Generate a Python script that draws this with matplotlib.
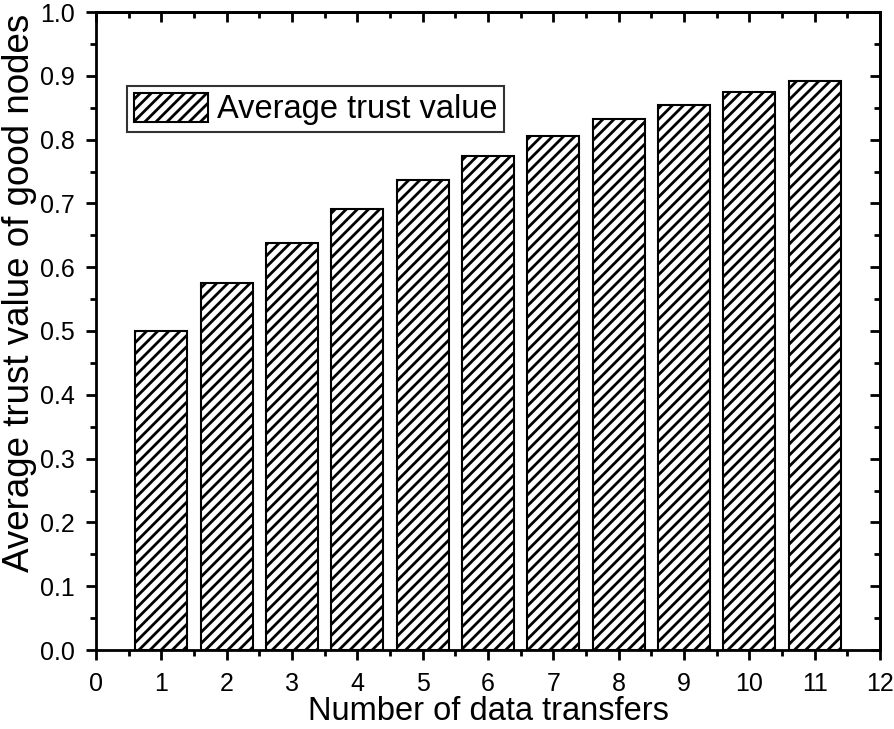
import matplotlib
matplotlib.use("Agg")
import matplotlib.pyplot as plt
from matplotlib.ticker import MultipleLocator

plt.rcParams['font.family'] = ['Liberation Sans', 'DejaVu Sans']
plt.rcParams['hatch.linewidth'] = 2.0

transfers = [1, 2, 3, 4, 5, 6, 7, 8, 9, 10, 11]
trust = [0.500, 0.576, 0.638, 0.691, 0.736, 0.774, 0.806, 0.833, 0.855, 0.875, 0.892]

fig = plt.figure(figsize=(8.94, 7.29), dpi=100)
ax = fig.add_axes([96/894, 1-650/729, 784/894, 638/729])

ax.bar(transfers, trust, width=0.8, color='white', edgecolor='black',
       linewidth=1.5, hatch='///', label='Average trust value')

ax.set_xlim(0, 12)
ax.set_ylim(0, 1.0)
ax.xaxis.set_major_locator(MultipleLocator(1))
ax.xaxis.set_minor_locator(MultipleLocator(0.5))
ax.set_yticks([i / 10 for i in range(11)])
ax.set_yticklabels([f"{i / 10:.1f}" for i in range(11)])
ax.yaxis.set_minor_locator(MultipleLocator(0.05))

for s in ax.spines.values():
    s.set_linewidth(2)

ax.tick_params(axis='both', which='major', labelsize=18, width=2, length=7.5, direction='out', pad=8)
ax.tick_params(axis='both', which='minor', width=2, length=4, direction='out')
ax.tick_params(top=False, right=False, which='both')

# mirrored ticks inward on top/right
ax2 = ax.secondary_xaxis('top')
ax2.xaxis.set_major_locator(MultipleLocator(1))
ax2.xaxis.set_minor_locator(MultipleLocator(0.5))
ax2.tick_params(which='major', direction='in', length=7.5, width=2, labeltop=False)
ax2.tick_params(which='minor', direction='in', length=4, width=2)
ax2.spines['top'].set_linewidth(2)
ax3 = ax.secondary_yaxis('right')
ax3.yaxis.set_major_locator(MultipleLocator(0.1))
ax3.yaxis.set_minor_locator(MultipleLocator(0.05))
ax3.tick_params(which='major', direction='in', length=7.5, width=2, labelright=False)
ax3.tick_params(which='minor', direction='in', length=4, width=2)
ax3.spines['right'].set_linewidth(2)

ax.set_xlabel('Number of data transfers', fontsize=23.5, labelpad=0)
ax.set_ylabel('Average trust value of good nodes', fontsize=26.5, labelpad=2)
ax.yaxis.label.set_y(0.56)

leg = ax.legend(loc='upper left', bbox_to_anchor=(31/784, 1-(86-12)/638), fontsize=23.5,
                frameon=True, fancybox=False, edgecolor='black', handlelength=2.27,
                handleheight=1.0, handletextpad=0.3, borderpad=0.2, borderaxespad=0)
leg.get_frame().set_linewidth(1.5)

fig.savefig('out.png', dpi=100)
